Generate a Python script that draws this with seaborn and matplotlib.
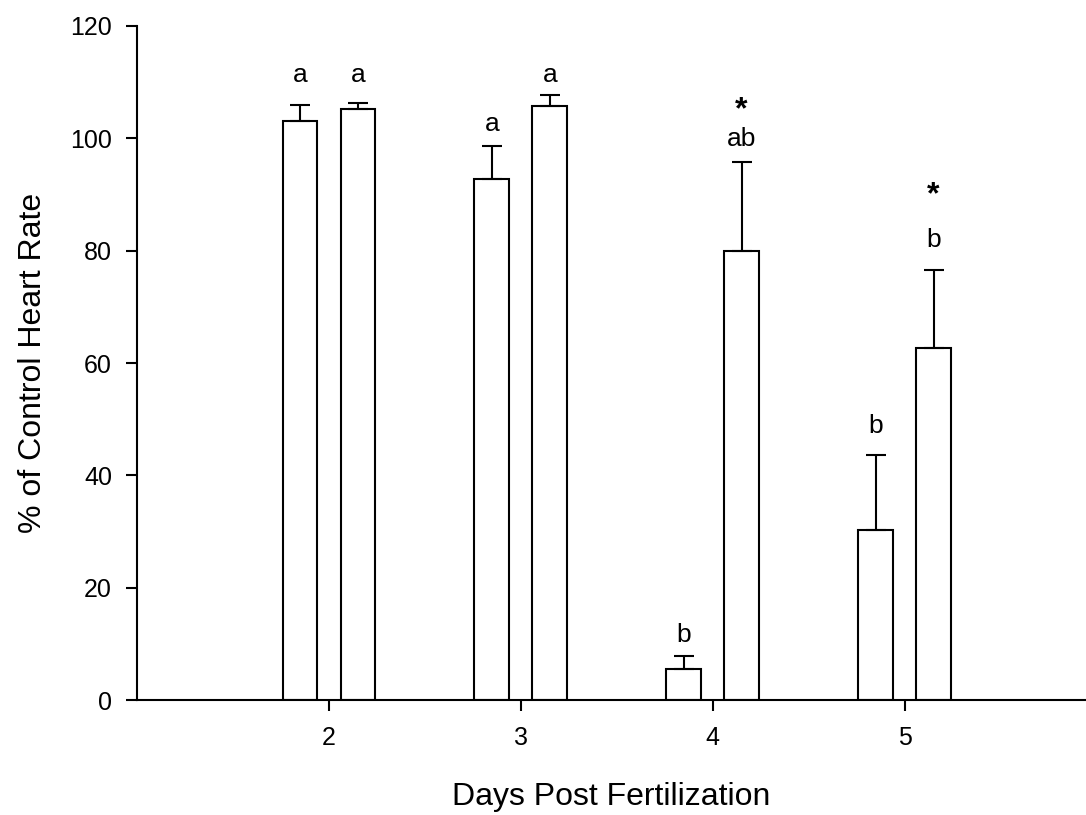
import matplotlib
matplotlib.use("Agg")
import matplotlib.pyplot as plt
import seaborn as sns
import pandas as pd
import numpy as np

# ---- data ----
days = [2, 3, 4, 5]
groups = ["A", "B"]
means_a = [103.1, 92.7, 5.6, 30.2]
means_b = [105.3, 105.8, 80.0, 62.6]
err_a = [2.8, 5.9, 2.3, 13.5]
err_b = [1.0, 1.9, 15.8, 14.0]
labels_a = ["a", "a", "b", "b"]
labels_b = ["a", "a", "ab", "b"]
stars_b = ["", "", "*", "*"]
# annotation baselines (data units)
label_y_a = [110.0, 101.3, 10.4, 47.6]
label_y_b = [110.0, 110.0, 98.7, 80.6]
star_y_b = [None, None, 103.5, 88.4]

sns.set_theme(style="ticks")
plt.rcParams['font.family'] = ['Liberation Sans', 'DejaVu Sans']

df = pd.DataFrame({
    "day": days + days,
    "group": ["A"] * 4 + ["B"] * 4,
    "value": means_a + means_b,
})

fig = plt.figure(figsize=(10.86, 8.15), dpi=100)
ax = fig.add_axes([0.1262, 0.1411, 0.8728, 0.8270])

sns.barplot(data=df, x="day", y="value", hue="group", native_scale=True,
            width=0.604, gap=0.4, palette=["white", "white"],
            edgecolor="black", linewidth=1.5, errorbar=None, legend=False, ax=ax)

off = 0.151
xa = np.array(days) - off
xb = np.array(days) + off
for xs, m, e in [(xa, means_a, err_a), (xb, means_b, err_b)]:
    ax.errorbar(xs, m, yerr=[np.zeros(len(m)), e], fmt="none", ecolor="black",
                elinewidth=1.5, capsize=7.5, capthick=1.5, zorder=3)

lab_fs = 19
for i in range(4):
    ax.text(xa[i], label_y_a[i], labels_a[i], ha="center", va="baseline",
            fontsize=lab_fs, color="black")
    ax.text(xb[i], label_y_b[i], labels_b[i], ha="center", va="baseline",
            fontsize=lab_fs, color="black")
    if stars_b[i]:
        ax.text(xb[i], star_y_b[i], stars_b[i], ha="center", va="baseline",
                fontsize=23, fontweight="bold", color="black")

ax.set_xlim(1, 5.94)
ax.set_ylim(0, 120)
ax.set_xticks(days)
ax.set_xticklabels([str(d) for d in days])
ax.set_yticks(range(0, 121, 20))
ax.tick_params(axis="both", direction="out", length=8, width=1.5,
               labelsize=18, color="black", labelcolor="black")
ax.tick_params(axis="y", pad=10)
ax.tick_params(axis="x", pad=11)
for s in ["top", "right"]:
    ax.spines[s].set_visible(False)
for s in ["left", "bottom"]:
    ax.spines[s].set_linewidth(1.5)
    ax.spines[s].set_color("black")

ax.set_xlabel("Days Post Fertilization", fontsize=23, labelpad=23, color="black")
ax.set_ylabel("% of Control Heart Rate", fontsize=23, labelpad=16, color="black")

fig.savefig("out.png", dpi=100)
